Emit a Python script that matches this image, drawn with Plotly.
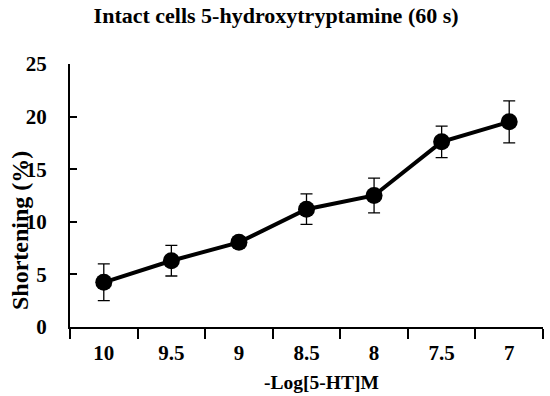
import plotly.graph_objects as go

categories = ["10", "9.5", "9", "8.5", "8", "7.5", "7"]
shortening = [4.25, 6.3, 8.05, 11.2, 12.5, 17.6, 19.5]
sem = [1.75, 1.45, 0.5, 1.45, 1.65, 1.5, 2.0]
y_ticks = [0, 5, 10, 15, 20, 25]

FONT = "Liberation Serif"

fig = go.Figure()
fig.add_trace(go.Scatter(
    x=categories, y=shortening,
    mode="lines+markers",
    line=dict(color="black", width=4),
    marker=dict(color="black", size=17, symbol="circle"),
    error_y=dict(type="data", array=sem, visible=True, color="black", thickness=1.3, width=6),
    showlegend=False,
))

fig.update_layout(
    width=550, height=396,
    margin=dict(l=70, r=7, t=64, b=69),
    paper_bgcolor="white", plot_bgcolor="white",
    font=dict(family=FONT, color="black"),
    title=dict(text="Intact cells 5-hydroxytryptamine (60 s)",
               x=0.502, xanchor="center", y=0.962, yanchor="middle",
               font=dict(family=FONT, size=22, color="black", weight="bold")),
    xaxis=dict(
        type="category", range=[-0.5, 6.5], automargin=False,
        tickson="boundaries", ticks="outside", ticklen=10, tickwidth=1.8, tickcolor="black",
        showline=True, linecolor="black", linewidth=2, showgrid=False, zeroline=False,
        tickfont=dict(family=FONT, size=21, color="black", weight="bold"),
        ticklabelstandoff=6,
    ),
    yaxis=dict(
        range=[0, 25], tickvals=y_ticks, automargin=False,
        ticks="inside", ticklen=7, tickwidth=1.8, tickcolor="black",
        showline=True, linecolor="black", linewidth=2, showgrid=False, zeroline=False,
        tickfont=dict(family=FONT, size=21, color="black", weight="bold"),
        ticklabelstandoff=17,
    ),
)

pw, ph = 550 - 70 - 7, 396 - 64 - 69
fig.add_annotation(
    text="Shortening (%)", textangle=-90,
    xref="paper", yref="paper", x=(20 - 70) / pw, y=(327 - 231) / ph,
    xanchor="center", yanchor="middle", showarrow=False,
    font=dict(family=FONT, size=24, color="black", weight="bold"),
)
fig.add_annotation(
    text="-Log[5-HT]M",
    xref="paper", yref="paper", x=(321 - 70) / pw, y=(327 - 382) / ph,
    xanchor="center", yanchor="middle", showarrow=False,
    font=dict(family=FONT, size=19.5, color="black", weight="bold"),
)

fig.write_html("out.html", config={"displayModeBar": False},
               post_script="document.body.style.margin='0';")
